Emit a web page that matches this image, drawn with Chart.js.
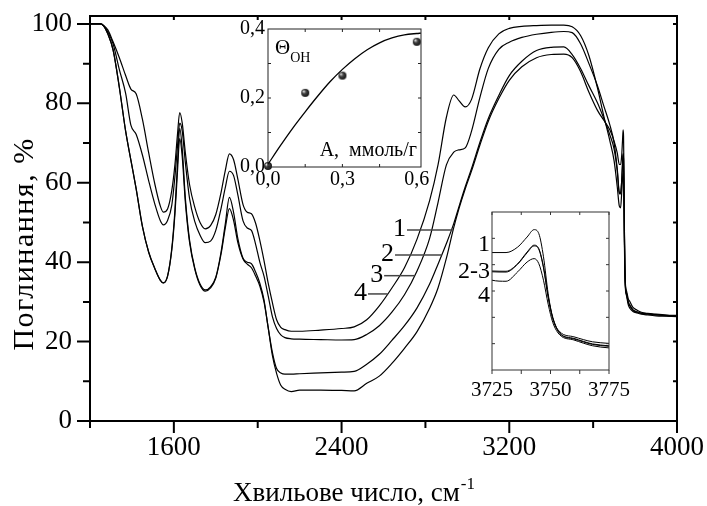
<!DOCTYPE html>
<html>
<head>
<meta charset="utf-8">
<script src="https://cdn.jsdelivr.net/npm/chart.js@4.4.1/dist/chart.umd.min.js"></script>
<style>
  html, body { margin: 0; padding: 0; background: #fff; }
  #wrap { position: relative; width: 707px; height: 506px; }
  canvas { position: absolute; }
  #main { left: 0; top: 0; }
  #inset1 { left: 222px; top: 12px; }
  #inset2 { left: 445px; top: 200px; }
</style>
</head>
<body>
<div id="wrap">
  <canvas id="main" width="707" height="506"></canvas>
  <canvas id="inset1" width="210" height="185"></canvas>
  <canvas id="inset2" width="195" height="215"></canvas>
</div>
<script>
// wavenumber grid, cm-1
const wavenumbers = [1200, 1250, 1265, 1285, 1310, 1340, 1370, 1395, 1420, 1450,
  1480, 1510, 1535, 1550, 1570, 1590, 1605, 1617, 1628, 1640,
  1655, 1675, 1700, 1725, 1750, 1775, 1800, 1825, 1845, 1865,
  1885, 1905, 1930, 1950, 1970, 1990, 2010, 2030, 2050, 2070,
  2090, 2110, 2130, 2160, 2200, 2300, 2400, 2460, 2520, 2580,
  2640, 2700, 2760, 2820, 2860, 2900, 2935, 2960, 2990, 3020,
  3060, 3100, 3150, 3200, 3260, 3330, 3400, 3460, 3500, 3540,
  3580, 3620, 3650, 3680, 3700, 3715, 3725, 3731, 3736, 3740,
  3743, 3745, 3747, 3749, 3751, 3754, 3760, 3768, 3775, 3790,
  3810, 3830, 3860, 3900, 3950, 4000];

// absorption, % (curves labelled 1..4)
const absorb1 = [100, 100, 99.5, 97.5, 93.5, 84, 73, 65.7, 58.5, 49,
  42.5, 38.3, 35.5, 34.8, 36.5, 43, 52, 62.5, 71.1, 66.5,
  55, 45, 38.2, 34.2, 32.7, 33.5, 36, 42, 48.5, 53.5,
  50.5, 45, 40.8, 39.5, 38.6, 36.5, 34, 30, 23.5, 16.5,
  12, 9, 8, 7.4, 7.8, 7.8, 7.7, 7.6, 9.5, 11.3,
  14.5, 18.3, 22.5, 28.4, 33.5, 41, 48.7, 53.5, 58.5, 63,
  69.5, 75.5, 81.2, 85.8, 89.2, 91.5, 92.3, 92.4, 91.5, 88,
  82.8, 78.3, 75.8, 73.3, 70.5, 67.5, 64.6, 64.6, 66.7, 70.5,
  73.3, 71.8, 63, 49, 39.5, 34.5, 32.6, 30.7, 30.1, 28.6,
  27.9, 27.4, 27.1, 26.9, 26.7, 26.6];
const absorb2 = [100, 100, 99.5, 97.5, 93.5, 84, 73, 65.7, 58.5, 49,
  42.5, 38.3, 35.5, 34.8, 36.5, 43.4, 53, 64.5, 73.7, 68.5,
  56, 45.5, 38.5, 34.5, 33, 33.8, 36.2, 42.5, 49.5, 56.3,
  52.5, 46, 41, 40, 39.6, 37.5, 34.7, 30.5, 23.5, 17.3,
  13.2, 12.1, 11.8, 11.8, 11.9, 12.1, 12.3, 12.5, 14.3, 16.8,
  20.3, 24, 28.5, 34.5, 39.5, 44.7, 49.7, 54, 59, 63.6,
  70.2, 76.2, 82, 87, 90.6, 93.3, 94.1, 94.2, 92.3, 88.8,
  84.4, 80.2, 76.3, 72, 68.5, 63, 57.3, 57.2, 60.2, 64.5,
  67.1, 65.8, 58.8, 47.5, 39.5, 33.8, 31.8, 29.7, 29, 27.9,
  27.4, 27.1, 26.9, 26.7, 26.5, 26.4];
const absorb3 = [100, 100, 99.5, 98, 95, 88.5, 82.5, 74.5, 72.2, 67,
  60.5, 54.5, 50.5, 49.4, 50.5, 54.3, 61.5, 69, 75, 73,
  65, 56, 50.2, 46.8, 44.9, 45.3, 48, 53.5, 58.7, 62.9,
  61.8, 57, 50.4, 48.6, 48, 44.5, 40, 36.5, 31.5, 26.3,
  23.3, 21.7, 21, 20.7, 20.6, 20.5, 20.4, 20.5, 21.8, 24,
  27.4, 31.8, 37.8, 46, 55, 64.5, 67.7, 68.3, 68.8, 73,
  81.5, 88.8, 93.6, 95.4, 96.6, 97.4, 97.9, 98.1, 97.8, 95,
  90, 84.5, 79.5, 74.5, 70, 63.5, 57.6, 57.5, 60.4, 64.8,
  67.4, 66.1, 59.2, 48, 40, 34, 32, 29.9, 29.2, 28,
  27.5, 27.2, 27, 26.8, 26.6, 26.5];
const absorb4 = [100, 100, 99.6, 98.5, 95.5, 91.5, 87, 83.6, 82.4, 76,
  67.5, 59.5, 54.2, 52.6, 53.4, 58, 64.5, 72, 77.7, 75,
  67.5, 59.5, 53.8, 50, 48.4, 49.2, 52, 57.5, 63, 67.3,
  65.8, 61, 54.5, 52.6, 52.2, 49.8, 45.5, 40.4, 34.7, 29.8,
  25.5, 23.6, 23, 22.6, 22.6, 22.9, 23.3, 23.7, 25.5, 29,
  33.5, 38.6, 45.8, 55.5, 64.5, 76.5, 82.1, 80.7, 79.1, 81,
  88.7, 94, 97.5, 98.9, 99.4, 99.6, 99.7, 99.7, 99.3, 97.1,
  92, 84, 77, 70.5, 65.5, 59, 54.1, 53.7, 57.3, 61,
  62.3, 60.4, 54.1, 45, 38, 33.3, 31.4, 29.2, 28.4, 27.6,
  27.2, 26.9, 26.7, 26.5, 26.4, 26.3];

const xTicks = [1600, 2400, 3200, 4000];
const yTicks = [0, 20, 40, 60, 80, 100];

// inset: surface coverage vs adsorbed amount
const loadA = [0, 0.15, 0.3, 0.6];
const thetaOH = [0.003, 0.215, 0.265, 0.363];
const fitA = [0, 0.05, 0.1, 0.15, 0.2, 0.25, 0.3, 0.35, 0.4, 0.45, 0.5, 0.55, 0.6, 0.617];
const fitTheta = [0.008, 0.062, 0.113, 0.16, 0.205, 0.247, 0.283, 0.314, 0.34, 0.36, 0.374, 0.383, 0.387, 0.388];
const insetATicks = [0, 0.3, 0.6];
const insetThetaTicks = [0, 0.2, 0.4];

// inset: OH band
const bandTicks = [3725, 3750, 3775];

const serif = "'Liberation Serif', 'Times New Roman', serif";
Chart.defaults.font.family = serif;
Chart.defaults.color = '#000';

const curve = (values, width) => ({
  data: wavenumbers.map((w, i) => ({ x: w, y: values[i] })),
  borderColor: '#000',
  borderWidth: width,
  pointRadius: 0,
  fill: false,
  cubicInterpolationMode: 'monotone'
});

const noGrid = { display: false, drawTicks: false };

// force axis size, drop the label padding chart.js adds around the plot
const fixSize = (prop, val) => s => {
  s[prop] = val;
  s.paddingTop = s.paddingBottom = s.paddingLeft = s.paddingRight = 0;
};

// where a curve crosses a level on the rising edge
function crossing(values, level, fromWn) {
  for (let i = 0; i < wavenumbers.length - 1; i++) {
    if (wavenumbers[i] < fromWn) continue;
    const a = values[i], b = values[i + 1];
    if (a <= level && b >= level) {
      return wavenumbers[i] + (level - a) / (b - a) * (wavenumbers[i + 1] - wavenumbers[i]);
    }
  }
  return fromWn;
}

const mainDecor = {
  id: 'mainDecor',
  afterDatasetsDraw(chart) {
    const { ctx, chartArea: a, scales: { x, y } } = chart;
    ctx.save();
    ctx.strokeStyle = '#000';
    ctx.lineWidth = 2;
    ctx.strokeRect(a.left, a.top, a.right - a.left, a.bottom - a.top);
    ctx.beginPath();
    for (let v = 0; v <= 100; v += 10) {
      const py = y.getPixelForValue(v);
      const len = v % 20 === 0 ? 13 : 7;
      ctx.moveTo(a.left - len, py); ctx.lineTo(a.left, py);
      ctx.moveTo(a.right, py); ctx.lineTo(a.right - 4, py);
    }
    for (let v = 1200; v <= 4000; v += 400) {
      const px = x.getPixelForValue(v);
      const len = (v - 1600) % 800 === 0 ? 12 : 7;
      ctx.moveTo(px, a.bottom); ctx.lineTo(px, a.bottom + len);
      ctx.moveTo(px, a.top); ctx.lineTo(px, a.top + 4);
    }
    ctx.stroke();

    // curve labels with leader lines
    const labels = [['1', absorb1, 48.1, 2712], ['2', absorb2, 41.8, 2655],
                    ['3', absorb3, 36.6, 2603], ['4', absorb4, 32.0, 2526]];
    ctx.font = '26px ' + serif;
    ctx.fillStyle = '#000';
    ctx.textAlign = 'right';
    ctx.textBaseline = 'middle';
    ctx.strokeStyle = '#444';
    ctx.lineWidth = 1.5;
    labels.forEach(([t, vals, lvl, startWn]) => {
      const py = y.getPixelForValue(lvl);
      const x0 = x.getPixelForValue(startWn);
      const x1 = x.getPixelForValue(crossing(vals, lvl, 2460));
      ctx.beginPath(); ctx.moveTo(x0, py); ctx.lineTo(x1, py); ctx.stroke();
      ctx.fillText(t, x0 - 1, py - 1);
    });

    // axis titles
    ctx.textBaseline = 'alphabetic';
    ctx.textAlign = 'left';
    ctx.font = '27px ' + serif;
    const xt = 'Хвильове число, см';
    const tx = 233;
    ctx.fillText(xt, tx, 501);
    const w = ctx.measureText(xt).width;
    ctx.font = '17px ' + serif;
    ctx.fillText('-1', tx + w + 1, 489);

    ctx.translate(25, 244);
    ctx.rotate(-Math.PI / 2);
    ctx.font = '30px ' + serif;
    ctx.letterSpacing = '1.5px';
    ctx.textAlign = 'center';
    ctx.textBaseline = 'middle';
    ctx.fillText('Поглинання, %', 0, 0);
    ctx.restore();
  }
};

new Chart(document.getElementById('main'), {
  type: 'line',
  data: { datasets: [curve(absorb1, 1.2), curve(absorb2, 1.2), curve(absorb3, 1.2), curve(absorb4, 1.2)] },
  options: {
    responsive: false, animation: false, devicePixelRatio: 1,
    layout: { padding: { left: 0, right: 30, top: 16, bottom: 0 } },
    plugins: { legend: { display: false }, tooltip: { enabled: false } },
    scales: {
      x: {
        type: 'linear', min: 1200, max: 4000,
        grid: noGrid, border: { display: false },
        afterBuildTicks: s => { s.ticks = xTicks.map(v => ({ value: v })); },
        afterFit: fixSize('height', 85),
        ticks: { font: { size: 27 }, padding: 11, maxRotation: 0, autoSkip: false, callback: v => String(v) }
      },
      y: {
        type: 'linear', min: 0, max: 102,
        grid: noGrid, border: { display: false },
        afterBuildTicks: s => { s.ticks = yTicks.map(v => ({ value: v })); },
        afterFit: fixSize('width', 90),
        ticks: { font: { size: 27 }, padding: 18, callback: v => String(v) }
      }
    }
  },
  plugins: [mainDecor]
});

// shaded ball marker
function ball(r) {
  const c = document.createElement('canvas');
  c.width = c.height = 2 * r + 2;
  const g = c.getContext('2d');
  const gr = g.createRadialGradient(r * 0.6 + 1, r * 0.6 + 1, 0.3, r + 1, r + 1, r + 1);
  gr.addColorStop(0, '#e0e0e0');
  gr.addColorStop(0.35, '#444');
  gr.addColorStop(1, '#000');
  g.fillStyle = gr;
  g.beginPath(); g.arc(r + 1, r + 1, r, 0, Math.PI * 2); g.fill();
  return c;
}

const comma = v => v.toFixed(1).replace('.', ',');

const inset1Decor = {
  id: 'inset1Decor',
  afterDatasetsDraw(chart) {
    const { ctx, chartArea: a, scales: { x, y } } = chart;
    ctx.save();
    ctx.strokeStyle = '#222';
    ctx.lineWidth = 1;
    ctx.strokeRect(a.left, a.top, a.right - a.left, a.bottom - a.top);
    ctx.beginPath();
    [0.1, 0.2, 0.3].forEach(v => {
      const py = y.getPixelForValue(v);
      ctx.moveTo(a.left, py); ctx.lineTo(a.left + 3, py);
      ctx.moveTo(a.right, py); ctx.lineTo(a.right - 3, py);
    });
    [0.15, 0.3, 0.45].forEach(v => {
      const px = x.getPixelForValue(v);
      ctx.moveTo(px, a.top); ctx.lineTo(px, a.top + 3);
      ctx.moveTo(px, a.bottom); ctx.lineTo(px, a.bottom - 3);
    });
    ctx.stroke();
    ctx.fillStyle = '#000';
    ctx.textBaseline = 'alphabetic';
    ctx.textAlign = 'left';
    ctx.font = '21px ' + serif;
    ctx.fillText('Θ', a.left + 7, a.top + 25);
    const tw = ctx.measureText('Θ').width;
    ctx.font = '14px ' + serif;
    ctx.fillText('OH', a.left + 7 + tw, a.top + 33);
    ctx.font = '20px ' + serif;
    ctx.textAlign = 'right';
    ctx.fillText('A,  ммоль/г', a.right - 4, a.bottom - 11);
    ctx.restore();
  }
};

new Chart(document.getElementById('inset1'), {
  type: 'scatter',
  data: {
    datasets: [
      { type: 'line', data: fitA.map((v, i) => ({ x: v, y: fitTheta[i] })), borderColor: '#000',
        borderWidth: 1.3, pointRadius: 0, cubicInterpolationMode: 'monotone' },
      { data: loadA.map((v, i) => ({ x: v, y: thetaOH[i] })), pointStyle: ball(4), pointRadius: 4, clip: false }
    ]
  },
  options: {
    responsive: false, animation: false, devicePixelRatio: 1,
    layout: { padding: { left: 0, right: 11, top: 17, bottom: 0 } },
    plugins: { legend: { display: false }, tooltip: { enabled: false } },
    scales: {
      x: {
        type: 'linear', min: 0, max: 0.617,
        grid: noGrid, border: { display: false },
        afterBuildTicks: s => { s.ticks = insetATicks.map(v => ({ value: v })); },
        afterFit: fixSize('height', 30),
        ticks: { font: { size: 20 }, padding: 1, maxRotation: 0, autoSkip: false, callback: comma }
      },
      y: {
        type: 'linear', min: 0, max: 0.4,
        grid: noGrid, border: { display: false },
        afterBuildTicks: s => { s.ticks = insetThetaTicks.map(v => ({ value: v })); },
        afterFit: fixSize('width', 46),
        ticks: { font: { size: 20 }, padding: 3, callback: comma }
      }
    }
  },
  plugins: [inset1Decor]
});

const inset2Decor = {
  id: 'inset2Decor',
  afterDatasetsDraw(chart) {
    const { ctx, chartArea: a, scales: { x, y } } = chart;
    ctx.save();
    ctx.strokeStyle = '#333';
    ctx.lineWidth = 1;
    ctx.strokeRect(a.left, a.top, a.right - a.left, a.bottom - a.top);
    ctx.beginPath();
    [30, 40, 50, 60, 70].forEach(v => {
      const py = y.getPixelForValue(v);
      ctx.moveTo(a.right, py); ctx.lineTo(a.right - 3, py);
      ctx.moveTo(a.left, py); ctx.lineTo(a.left + 3, py);
    });
    [3725, 3737.5, 3750, 3762.5, 3775].forEach(v => {
      const px = x.getPixelForValue(v);
      ctx.moveTo(px, a.bottom); ctx.lineTo(px, a.bottom + 4);
      ctx.moveTo(px, a.top); ctx.lineTo(px, a.top + 3);
    });
    ctx.stroke();
    ctx.fillStyle = '#000';
    ctx.font = '24px ' + serif;
    ctx.textAlign = 'right';
    ctx.textBaseline = 'middle';
    [['1', 67.4], ['2-3', 57.5], ['4', 48.4]].forEach(([t, v]) => {
      ctx.fillText(t, a.left - 2, y.getPixelForValue(v));
    });
    ctx.restore();
  }
};

new Chart(document.getElementById('inset2'), {
  type: 'line',
  data: { datasets: [curve(absorb1, 1), curve(absorb2, 1), curve(absorb3, 1), curve(absorb4, 1)] },
  options: {
    responsive: false, animation: false, devicePixelRatio: 1,
    layout: { padding: { left: 0, right: 31, top: 12, bottom: 0 } },
    plugins: { legend: { display: false }, tooltip: { enabled: false } },
    scales: {
      x: {
        type: 'linear', min: 3725, max: 3775,
        grid: noGrid, border: { display: false },
        afterBuildTicks: s => { s.ticks = bandTicks.map(v => ({ value: v })); },
        afterFit: fixSize('height', 45),
        ticks: { font: { size: 21 }, padding: 8, maxRotation: 0, autoSkip: false, callback: v => String(v) }
      },
      y: {
        type: 'linear', min: 20, max: 80,
        grid: noGrid, border: { display: false },
        ticks: { display: false },
        afterFit: fixSize('width', 47)
      }
    }
  },
  plugins: [inset2Decor]
});
</script>
</body>
</html>
